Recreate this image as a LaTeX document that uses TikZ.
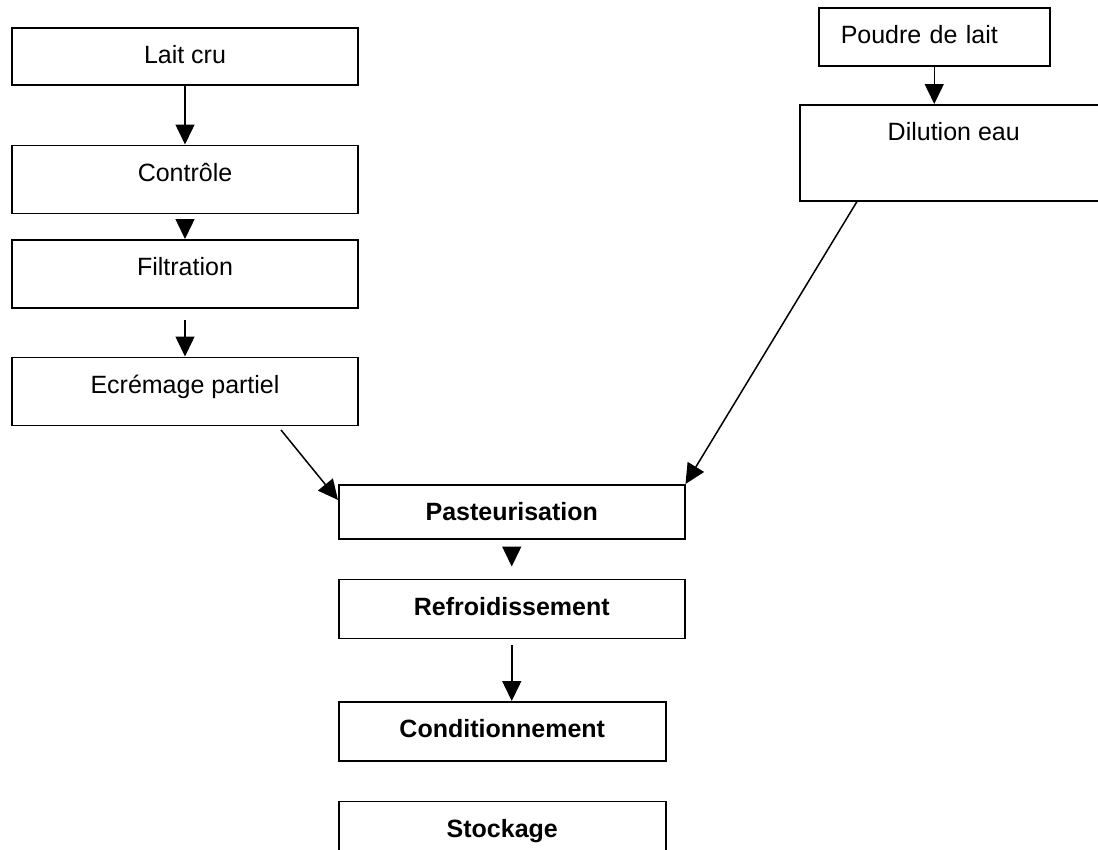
\documentclass[tikz,border=0pt]{standalone}
\usepackage{fontspec}
\setmainfont{Liberation Sans}
\usepackage{tikz}
\usetikzlibrary{arrows.meta, positioning}
\tikzset{
  etape/.style={
    rectangle, draw=black, fill=white, line width=1.5pt,
    minimum width=346pt, inner xsep=4pt, inner ysep=0pt,
    text height=36pt, text depth=#1, align=center,
    font=\fontsize{25}{30}\selectfont
  },
  gras/.style={font=\fontsize{25}{30}\selectfont\bfseries},
  fleche/.style={line width=1.5pt, -{Triangle[length=20pt, width=19pt]}}
}
\begin{document}
\begin{tikzpicture}[x=1pt, y=-1pt]
  \useasboundingbox (0,0) rectangle (1098,849);
  \clip (0,0) rectangle (1098,849);
  \node[etape=21pt, anchor=north] (lait) at (185,27) {Lait cru};
  \node[etape=32pt, below=59pt of lait] (ctrl) {Contrôle};
  \node[etape=32pt, below=25pt of ctrl] (filt) {Filtration};
  \node[etape=32pt, below=48pt of filt] (ecr)  {Ecrémage partiel};

  \node[etape=22pt, anchor=north west, minimum width=231pt, inner xsep=22pt,
        text width=187pt, align=left] (poudre) at (818,7) {Poudre de lait};
  \node[etape=60pt, anchor=north west, minimum width=308pt] (dil) at (799,104) {Dilution eau};

  \node[etape=18pt, gras, anchor=north west] (past) at (338,484) {Pasteurisation};
  \node[etape=23pt, gras, below=39pt of past] (refr) {Refroidissement};
  \node[etape=23pt, gras, below=62pt of refr.south west, anchor=north west,
        minimum width=327pt] (cond) {Conditionnement};
  \node[etape=23pt, gras, minimum width=327pt, below=39pt of cond] (stock) {Stockage};

  \coordinate (ecrbas) at (281,430);
  \coordinate (dilbas) at ([xshift=58pt]dil.south west);

  \draw[fleche] (lait) -- (ctrl);
  \draw[fleche, shorten <=7pt] (ctrl) -- (filt);
  \draw[fleche, shorten <=11pt] (filt) -- (ecr);
  \draw[fleche] (ecrbas) -- ([yshift=-16pt]past.north west);
  \draw[fleche] (poudre) -- (poudre |- dil.north);
  \draw[fleche] (dilbas) -- (past.north east);
  \draw[fleche, shorten <=7pt, shorten >=12pt] (past) -- (refr);
  \draw[fleche, shorten <=6pt] (refr.south) -- (refr.south |- cond.north);
\end{tikzpicture}
\end{document}
